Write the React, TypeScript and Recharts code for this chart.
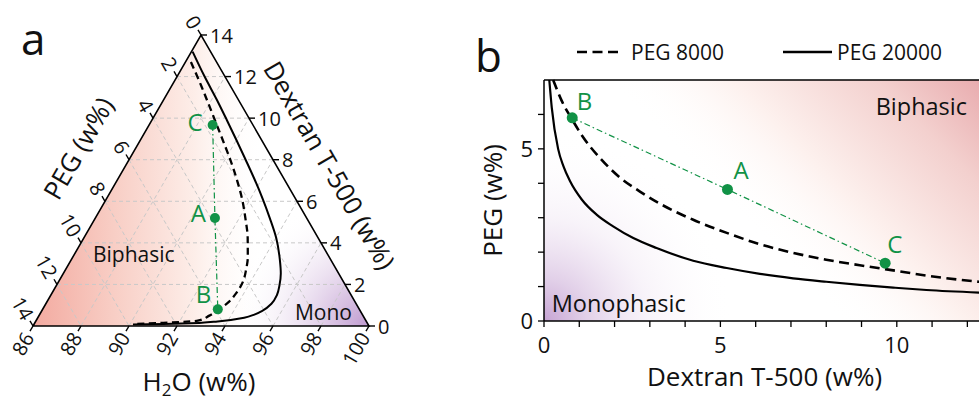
import React from "react";
import {
  ComposedChart,
  Line,
  Area,
  Scatter,
  XAxis,
  YAxis,
  ReferenceDot,
  Legend,
} from "recharts";

const FONT = '"Open Sans", "Noto Sans", sans-serif';
const GREEN = "#119246";
const INK = "#111";

// the three marked mixtures (w%)
const pointNames = ["A", "B", "C"];
const pointDex = [5.2, 0.8, 9.67];
const pointPeg = [3.82, 5.9, 1.68];

// panel b binodals, dextran (x) vs PEG (y), w%
const dex8000 = [0.26, 0.5, 0.8, 1.1, 1.6, 2.15, 2.72, 3.3, 4.23, 5.18, 6.12, 7.06, 8.0, 8.95, 9.9, 10.84, 12.5];
const peg8000 = [7.0, 6.4, 5.85, 5.35, 4.72, 4.17, 3.76, 3.4, 2.94, 2.56, 2.23, 1.98, 1.78, 1.62, 1.47, 1.32, 1.12];
const dex20000 = [0.15, 0.22, 0.4, 0.55, 0.74, 1.07, 1.49, 1.96, 2.53, 3.19, 4.23, 5.18, 6.12, 7.06, 8.0, 8.95, 9.9, 10.84, 12.5];
const peg20000 = [7.0, 6.2, 5.0, 4.5, 4.06, 3.53, 3.09, 2.75, 2.41, 2.12, 1.75, 1.54, 1.37, 1.24, 1.14, 1.05, 0.97, 0.9, 0.82];

// panel a binodals in the ternary plot, from the apex down to the water corner
const triDex8000 = [12.7, 11.5, 10.84, 9.9, 8.95, 8.0, 7.06, 6.12, 5.18, 4.23, 3.3, 2.72, 2.15, 1.6, 1.1, 0.8, 0.5, 0.26, 0.15, 0.1];
const triPeg8000 = [1.07, 1.22, 1.32, 1.47, 1.62, 1.78, 1.98, 2.23, 2.56, 2.94, 3.4, 3.76, 4.17, 4.72, 5.35, 5.85, 6.4, 7.0, 8.5, 9.7];
const triDex20000 = [13.2, 12.0, 10.84, 9.9, 8.95, 8.0, 7.06, 6.12, 5.18, 4.23, 3.19, 2.53, 1.96, 1.49, 1.07, 0.74, 0.55, 0.4, 0.22, 0.15, 0.1, 0.07];
const triPeg20000 = [0.75, 0.85, 0.9, 0.97, 1.05, 1.14, 1.24, 1.37, 1.54, 1.75, 2.12, 2.41, 2.75, 3.09, 3.53, 4.06, 4.5, 5.0, 6.2, 7.0, 8.5, 9.8];

// ternary axis ticks
const waterTicks = [86, 88, 90, 92, 94, 96, 98, 100];
const pegTicks = [0, 2, 4, 6, 8, 10, 12, 14];
const dexTicks = [0, 2, 4, 6, 8, 10, 12, 14];
const gridSteps = [2, 4, 6, 8, 10, 12];

// panel b axis ticks (only multiples of 5 get a label)
const xTicksB = [0, 1, 2, 3, 4, 5, 6, 7, 8, 9, 10, 11, 12];
const yTicksB = [0, 1, 2, 3, 4, 5, 6];

// ternary -> cartesian: water corner right, PEG corner left, dextran at the apex
const SPAN = 14;
const K = Math.sqrt(3) / 2;
const TRI_H = SPAN * K;
const tri = (peg: number, dex: number) => ({ x: SPAN - peg - dex / 2, y: dex * K });

const labelOffsetA: Record<string, [number, number]> = { A: [-9, 4], B: [-6.5, -6], C: [-10, 6] };
const labelOffsetB: Record<string, [number, number]> = { A: [6, -10], B: [4.5, -8], C: [2, -10] };

function tickShape(dir: number, rot: number, anchor: "start" | "end") {
  const a = (dir * Math.PI) / 180;
  const ux = Math.cos(a);
  const uy = Math.sin(a);
  return (props: any) => {
    const { cx, cy, payload } = props;
    const lx = cx + ux * 9;
    const ly = cy + uy * 9;
    return (
      <g>
        <line x1={cx} y1={cy} x2={cx + ux * 6} y2={cy + uy * 6} stroke="#000" strokeWidth={1.4} />
        <text
          x={lx}
          y={ly}
          textAnchor={anchor}
          dominantBaseline="central"
          transform={rot ? `rotate(${rot} ${lx} ${ly})` : undefined}
          fontSize={20}
          fontFamily={FONT}
          fill={INK}
        >
          {payload.label}
        </text>
      </g>
    );
  };
}

function note(
  key: string,
  x: number,
  y: number,
  dx: number,
  dy: number,
  content: React.ReactNode,
  o: { size: number; anchor?: "start" | "middle" | "end"; rotate?: number; central?: boolean }
) {
  return (
    <ReferenceDot
      key={key}
      x={x}
      y={y}
      r={0}
      ifOverflow="visible"
      shape={(p: any) => {
        const tx = p.cx + dx;
        const ty = p.cy + dy;
        return (
          <text
            x={tx}
            y={ty}
            textAnchor={o.anchor ?? "start"}
            dominantBaseline={o.central ? "central" : undefined}
            transform={o.rotate ? `rotate(${o.rotate} ${tx} ${ty})` : undefined}
            fontSize={o.size}
            fontFamily={FONT}
            fill={INK}
          >
            {content}
          </text>
        );
      }}
    />
  );
}

function TernaryPanel() {
  const curve8000 = triDex8000.map((d, i) => tri(triPeg8000[i], d));
  const curve20000 = triDex20000.map((d, i) => tri(triPeg20000[i], d));
  const marks = pointNames.map((name, i) => ({ ...tri(pointPeg[i], pointDex[i]), name }));
  const tie = [...marks].sort((a, b) => b.y - a.y);
  const fill = [tri(SPAN, 0), tri(0, SPAN), tri(0, 0)];
  const outline = [tri(SPAN, 0), tri(0, SPAN), tri(0, 0), tri(SPAN, 0)];
  const grid = gridSteps.flatMap((v) => [
    [tri(SPAN - v, v), tri(0, v)], // constant dextran
    [tri(v, SPAN - v), tri(v, 0)], // constant PEG
    [tri(v, 0), tri(0, v)], // constant water
  ]);
  const waterPts = waterTicks.map((w) => ({ ...tri(100 - w, 0), label: w }));
  const pegPts = pegTicks.map((p) => ({ ...tri(p, SPAN - p), label: p }));
  const dexPts = dexTicks.map((d) => ({ ...tri(0, d), label: d }));

  return (
    <ComposedChart width={470} height={401} margin={{ top: 35, right: 101, bottom: 75, left: 33 }}>
      <defs>
        <linearGradient id="triPink" gradientUnits="userSpaceOnUse" x1="33" y1="0" x2="265" y2="0">
          <stop offset="0%" stopColor="#f3aaa0" />
          <stop offset="35%" stopColor="#f8cec5" />
          <stop offset="70%" stopColor="#fdeee9" />
          <stop offset="100%" stopColor="#ffffff" stopOpacity={0} />
        </linearGradient>
        <radialGradient id="triPurple" gradientUnits="userSpaceOnUse" cx="369" cy="326" r="135">
          <stop offset="0%" stopColor="#bf9acf" />
          <stop offset="30%" stopColor="#d8c1e2" stopOpacity={0.9} />
          <stop offset="65%" stopColor="#eee4f2" stopOpacity={0.55} />
          <stop offset="100%" stopColor="#ffffff" stopOpacity={0} />
        </radialGradient>
      </defs>
      <XAxis type="number" dataKey="x" domain={[0, SPAN]} hide />
      <YAxis type="number" dataKey="y" domain={[0, TRI_H]} hide />
      <Area data={fill} dataKey="y" type="linear" stroke="none" fill="url(#triPink)" fillOpacity={1} isAnimationActive={false} />
      <Area data={fill} dataKey="y" type="linear" stroke="none" fill="url(#triPurple)" fillOpacity={1} isAnimationActive={false} />
      {grid.map((seg, i) => (
        <Line
          key={`g${i}`}
          data={seg}
          dataKey="y"
          type="linear"
          stroke="#c8c8c8"
          strokeWidth={1}
          strokeDasharray="4 3"
          dot={false}
          activeDot={false}
          isAnimationActive={false}
        />
      ))}
      <Line data={tie} dataKey="y" type="linear" stroke={GREEN} strokeWidth={1.2} strokeDasharray="6 3 1.5 3" dot={false} activeDot={false} isAnimationActive={false} />
      <Line data={curve20000} dataKey="y" type="monotoneY" stroke="#000" strokeWidth={2} dot={false} activeDot={false} isAnimationActive={false} />
      <Line data={curve8000} dataKey="y" type="monotoneY" stroke="#000" strokeWidth={2.3} strokeDasharray="7 4.5" dot={false} activeDot={false} isAnimationActive={false} />
      <Line data={outline} dataKey="y" type="linear" stroke="#000" strokeWidth={1.6} dot={false} activeDot={false} isAnimationActive={false} />
      <Scatter data={waterPts} shape={tickShape(120, -60, "end")} isAnimationActive={false} />
      <Scatter data={pegPts} shape={tickShape(240, 60, "end")} isAnimationActive={false} />
      <Scatter data={dexPts} shape={tickShape(0, 0, "start")} isAnimationActive={false} />
      <Scatter
        data={marks}
        isAnimationActive={false}
        shape={(p: any) => {
          const [dx, dy] = labelOffsetA[p.payload.name];
          return (
            <g>
              <circle cx={p.cx} cy={p.cy} r={5} fill={GREEN} />
              <text x={p.cx + dx} y={p.cy + dy} textAnchor="end" fontSize={24} fontFamily={FONT} fill={GREEN}>
                {p.payload.name}
              </text>
            </g>
          );
        }}
      />
      {note("bi", 0, 0, 60, -64, "Biphasic", { size: 21 })}
      {note("mono", SPAN, 0, -17, -6, "Mono", { size: 21, anchor: "end" })}
      {note("tPeg", tri(7, 7).x, tri(7, 7).y, -39, -32.5, "PEG (w%)", { size: 26, anchor: "middle", rotate: -60, central: true })}
      {note("tDex", tri(0, 7).x, tri(0, 7).y, 45, -15.5, "Dextran T-500 (w%)", { size: 26, anchor: "middle", rotate: 60, central: true })}
      {note(
        "tWater",
        tri(7, 0).x,
        0,
        -2,
        65,
        <>
          H<tspan fontSize={17} dy={5}>2</tspan>
          <tspan dy={-5}>O (w%)</tspan>
        </>,
        { size: 26, anchor: "middle" }
      )}
    </ComposedChart>
  );
}

const legendLook: Record<string, { x: number; len: number; gap: number; dash?: string }> = {
  "PEG 8000": { x: 107, len: 41, gap: 13, dash: "10 5.5" },
  "PEG 20000": { x: 313, len: 49, gap: 5 },
};

function BinodalPanel() {
  const line8000 = dex8000.map((x, i) => ({ x, y: peg8000[i] }));
  const line20000 = dex20000.map((x, i) => ({ x, y: peg20000[i] }));
  const marks = pointNames.map((name, i) => ({ x: pointDex[i], y: pointPeg[i], name }));
  const tie = [...marks].sort((a, b) => a.x - b.x);
  const box = [
    { x: 0, y: 7 },
    { x: 12.5, y: 7 },
  ];
  const tickStyle = { fontSize: 22, fill: INK, fontFamily: FONT };
  const fmt = (v: number) => (v % 5 === 0 ? String(v) : "");

  return (
    <ComposedChart width={517} height={401} margin={{ top: 80, right: 2, bottom: 10, left: 14 }}>
      <defs>
        <linearGradient id="bPink" gradientUnits="userSpaceOnUse" x1="525" y1="70" x2="320" y2="270">
          <stop offset="0%" stopColor="#e6a3a7" />
          <stop offset="32%" stopColor="#f3d0ce" />
          <stop offset="68%" stopColor="#fdf1ee" />
          <stop offset="100%" stopColor="#ffffff" stopOpacity={0} />
        </linearGradient>
        <radialGradient id="bPurple" gradientUnits="userSpaceOnUse" cx="74" cy="321" r="190">
          <stop offset="0%" stopColor="#c6a3d3" />
          <stop offset="22%" stopColor="#dcc7e4" stopOpacity={0.85} />
          <stop offset="55%" stopColor="#f1e8f4" stopOpacity={0.5} />
          <stop offset="100%" stopColor="#ffffff" stopOpacity={0} />
        </radialGradient>
      </defs>
      <XAxis
        type="number"
        dataKey="x"
        domain={[0, 12.5]}
        ticks={xTicksB}
        tickFormatter={fmt}
        tickSize={6}
        tickMargin={10}
        tick={tickStyle}
        axisLine={{ stroke: "#000", strokeWidth: 1.5 }}
        tickLine={{ stroke: "#000", strokeWidth: 1.3 }}
        height={70}
        label={{ value: "Dextran T-500 (w%)", position: "insideBottom", offset: 5, fontSize: 26, fill: INK, fontFamily: FONT }}
      />
      <YAxis
        type="number"
        dataKey="y"
        domain={[0, 7]}
        ticks={yTicksB}
        tickFormatter={fmt}
        tickSize={6}
        tickMargin={5}
        tick={tickStyle}
        axisLine={{ stroke: "#000", strokeWidth: 1.5 }}
        tickLine={{ stroke: "#000", strokeWidth: 1.3 }}
        width={60}
        label={{
          value: "PEG (w%)",
          angle: -90,
          position: "insideLeft",
          offset: 9,
          fontSize: 26,
          fill: INK,
          fontFamily: FONT,
          style: { textAnchor: "middle" },
        }}
      />
      <Area data={box} dataKey="y" type="linear" stroke="none" fill="url(#bPink)" fillOpacity={1} legendType="none" isAnimationActive={false} />
      <Area data={box} dataKey="y" type="linear" stroke="none" fill="url(#bPurple)" fillOpacity={1} legendType="none" isAnimationActive={false} />
      <Line data={box} dataKey="y" type="linear" stroke="#000" strokeWidth={1.5} dot={false} activeDot={false} legendType="none" isAnimationActive={false} />
      <Line data={tie} dataKey="y" type="linear" stroke={GREEN} strokeWidth={1.2} strokeDasharray="6 3 1.5 3" dot={false} activeDot={false} legendType="none" isAnimationActive={false} />
      <Line data={line8000} dataKey="y" name="PEG 8000" type="monotone" stroke="#000" strokeWidth={2.6} strokeDasharray="10 5.5" dot={false} activeDot={false} isAnimationActive={false} />
      <Line data={line20000} dataKey="y" name="PEG 20000" type="monotone" stroke="#000" strokeWidth={2.2} dot={false} activeDot={false} isAnimationActive={false} />
      <Scatter
        data={marks}
        legendType="none"
        isAnimationActive={false}
        shape={(p: any) => {
          const [dx, dy] = labelOffsetB[p.payload.name];
          return (
            <g>
              <circle cx={p.cx} cy={p.cy} r={5.5} fill={GREEN} />
              <text x={p.cx + dx} y={p.cy + dy} fontSize={24} fontFamily={FONT} fill={GREEN}>
                {p.payload.name}
              </text>
            </g>
          );
        }}
      />
      {note("bi", 12.5, 7, -18, 35, "Biphasic", { size: 23.5, anchor: "end" })}
      {note("mono", 0, 0, 7.7, -9.3, "Monophasic", { size: 23.5 })}
      <Legend
        layout="horizontal"
        verticalAlign="middle"
        align="center"
        wrapperStyle={{ left: 0, top: 37, width: 517, height: 30 }}
        content={(props: any) => (
          <svg width={517} height={30}>
            {(props.payload ?? []).map((e: any) => {
              const s = legendLook[e.value];
              if (!s) return null;
              return (
                <g key={e.value}>
                  <line x1={s.x} x2={s.x + s.len} y1={15} y2={15} stroke="#000" strokeWidth={2.4} strokeDasharray={s.dash} />
                  <text x={s.x + s.len + s.gap} y={23} fontSize={21} fontFamily={FONT} fill={INK}>
                    {e.value}
                  </text>
                </g>
              );
            })}
          </svg>
        )}
      />
    </ComposedChart>
  );
}

export default function App() {
  return (
    <div
      style={{
        position: "absolute",
        left: 0,
        top: 0,
        width: 979,
        height: 401,
        overflow: "hidden",
        background: "#fff",
        fontFamily: FONT,
      }}
    >
      <div style={{ position: "absolute", left: 0, top: 0 }}>
        <TernaryPanel />
      </div>
      <div style={{ position: "absolute", left: 470, top: 0 }}>
        <BinodalPanel />
      </div>
      <svg width={979} height={401} style={{ position: "absolute", left: 0, top: 0, pointerEvents: "none" }}>
        <text x={21} y={55} fontSize={44} fontFamily={FONT} fill={INK}>
          a
        </text>
        <text x={475} y={72} fontSize={44} fontFamily={FONT} fill={INK}>
          b
        </text>
      </svg>
    </div>
  );
}
